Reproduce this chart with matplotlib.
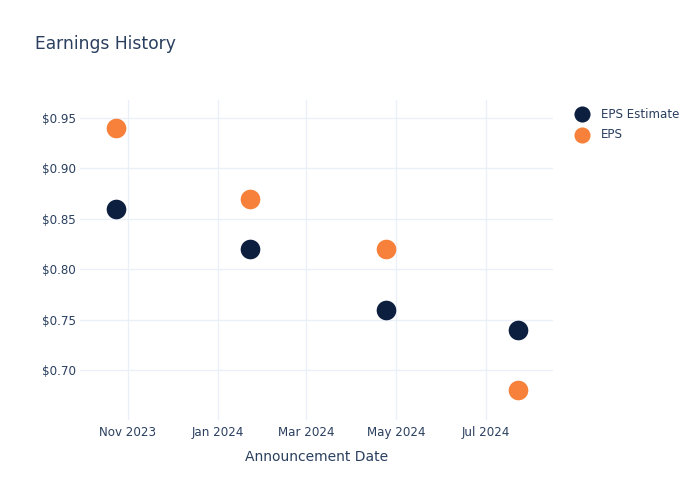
import matplotlib
matplotlib.use("Agg")
import matplotlib.pyplot as plt
import matplotlib.dates as mdates
import numpy as np
from datetime import datetime

# ---- data ----
dates = ["2023-10-24", "2024-01-23", "2024-04-24", "2024-07-23"]
eps_estimate = [0.86, 0.82, 0.76, 0.74]
eps_actual = [0.94, 0.87, 0.82, 0.68]

x = [datetime.strptime(d, "%Y-%m-%d") for d in dates]

txt = "#2a3f5f"
grid = "#ebf0f8"
c_est = "#0c1f3f"
c_eps = "#f7813a"

fig = plt.figure(figsize=(7, 5), dpi=100)
ax = fig.add_axes([0.1143, 0.16, 0.6757, 0.64])

ax.scatter(x, eps_estimate, s=200, color=c_est, zorder=3, label="EPS Estimate", linewidths=0)
ax.scatter(x, eps_actual, s=200, color=c_eps, zorder=3, label="EPS", linewidths=0)

ax.set_xlim(datetime(2023, 9, 29, 12), datetime(2024, 8, 15, 18))
ax.set_ylim(0.6504, 0.9679)

ax.xaxis.set_major_locator(mdates.MonthLocator(bymonth=[1, 3, 5, 7, 11]))
ax.xaxis.set_major_formatter(mdates.DateFormatter("%b %Y"))
ax.set_yticks([0.70, 0.75, 0.80, 0.85, 0.90, 0.95])
ax.yaxis.set_major_formatter(matplotlib.ticker.FuncFormatter(lambda v, p: "${:.2f}".format(v)))

ax.grid(True, color=grid, linewidth=1)
ax.set_axisbelow(True)
for s in ax.spines.values():
    s.set_visible(False)
ax.tick_params(length=0, labelsize=8.6, colors=txt)
ax.tick_params(axis="y", pad=3)
ax.tick_params(axis="x", pad=4)

ax.set_xlabel("Announcement Date", fontsize=10, color=txt, labelpad=8)

fig.text(0.05, 0.912, "Earnings History", fontsize=12.3, color=txt, va="center")

leg = ax.legend(loc="upper left", bbox_to_anchor=(1.0137, 1.01), frameon=False,
                fontsize=8.6, labelcolor=txt, handletextpad=0.6, labelspacing=0.6,
                markerscale=0.82)

fig.savefig("out.png", dpi=100)
